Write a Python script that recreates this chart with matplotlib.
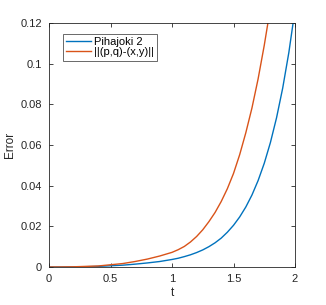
import numpy as np
import matplotlib
matplotlib.use("Agg")
import matplotlib.pyplot as plt

# values
t_blue = [0.0, 0.1, 0.2, 0.3, 0.4, 0.5, 0.6, 0.7, 0.75, 0.8, 0.9, 1.0,
          1.05, 1.1, 1.15, 1.2, 1.25, 1.3, 1.35, 1.4, 1.45, 1.5, 1.55, 1.6,
          1.65, 1.7, 1.75, 1.8, 1.85, 1.9, 1.95, 2.0]
err_blue = [0.0, 0.00001, 0.00006, 0.00015, 0.0003, 0.0006, 0.0009, 0.0014,
            0.0017, 0.0020, 0.0027, 0.0037, 0.0043, 0.0051, 0.0060, 0.0071,
            0.0084, 0.0100, 0.0119, 0.0142, 0.0171, 0.0205, 0.0246, 0.0295,
            0.0354, 0.0425, 0.0510, 0.0612, 0.0734, 0.0880, 0.1055, 0.1265]

t_red = [0.0, 0.1, 0.2, 0.3, 0.4, 0.5, 0.6, 0.7, 0.8, 0.9, 1.0, 1.05, 1.1,
         1.15, 1.2, 1.25, 1.3, 1.35, 1.4, 1.45, 1.5, 1.55, 1.6, 1.65, 1.7,
         1.75, 1.8]
err_red = [0.0, 0.00003, 0.0001, 0.0003, 0.0005, 0.0011, 0.0017, 0.0027,
           0.0039, 0.0054, 0.0072, 0.0085, 0.0101, 0.0123, 0.0150, 0.0183,
           0.0223, 0.0268, 0.0322, 0.0385, 0.0460, 0.0552, 0.0660, 0.0782,
           0.0925, 0.1090, 0.1275]

labels = ["Pihajoki 2", "||(p,q)-(x,y)||"]
xticks = [0, 0.5, 1, 1.5, 2]
xticklabels = ["0", "0.5", "1", "1.5", "2"]
yticks = [0, 0.02, 0.04, 0.06, 0.08, 0.1, 0.12]
yticklabels = ["0", "0.02", "0.04", "0.06", "0.08", "0.1", "0.12"]

plt.rcParams['font.family'] = ['Liberation Sans', 'DejaVu Sans']

fig = plt.figure(figsize=(3.26, 3.05), dpi=100)
ax = fig.add_axes([49/326, 38/305, 246/326, 244/305])

ax.plot(t_blue, err_blue, color='#0072BD', lw=1.0, label=labels[0])
ax.plot(t_red, err_red, color='#D95319', lw=1.0, label=labels[1])

ax.set_xlim(0, 2)
ax.set_ylim(0, 0.12)
ax.set_xticks(xticks)
ax.set_xticklabels(xticklabels)
ax.set_yticks(yticks)
ax.set_yticklabels(yticklabels)
ax.tick_params(direction='in', length=3, width=0.6, top=True, right=True,
               labelsize=8, colors='#262626', pad=5)
for s in ax.spines.values():
    s.set_color('#262626')
    s.set_linewidth(0.6)

ax.set_xlabel("t", fontsize=8.5, color='#262626', labelpad=2)
ax.set_ylabel("Error", fontsize=8.5, color='#262626', labelpad=3)

leg = ax.legend(loc='upper left', bbox_to_anchor=(63/326, 1 - 34/305),
                bbox_transform=fig.transFigure, fontsize=8, frameon=True,
                fancybox=False, edgecolor='#262626', handlelength=2.2,
                handletextpad=0.25, borderpad=0.3, labelspacing=0.0,
                borderaxespad=0)
leg.get_frame().set_linewidth(0.6)

fig.savefig("out.png", dpi=100)
